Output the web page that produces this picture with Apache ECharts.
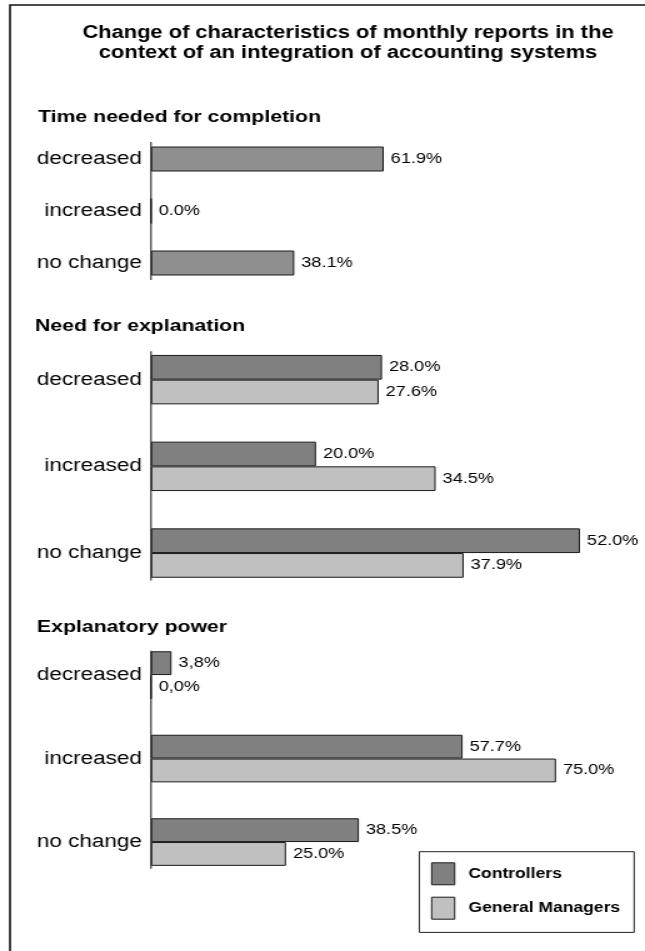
<!DOCTYPE html>
<html>
<head>
<meta charset="utf-8">
<title>Monthly reports and integration of accounting systems</title>
<script src="https://cdn.jsdelivr.net/npm/echarts@6/dist/echarts.min.js"></script>
<style>
  html, body { margin: 0; padding: 0; background: #fff; overflow: hidden; }
  /* the chart is laid out on a narrower canvas and widened, giving the wide lettering of the printed figure */
  #chart { width: 516px; height: 951px; transform: scaleX(1.25); transform-origin: 0 0; }
</style>
</head>
<body>
<div id="chart"></div>
<script>
// ---- data (percent of respondents) ----
const categories = ['decreased', 'increased', 'no change'];

const timeAll = [61.9, 0.0, 38.1];

const explanationControllers = [28.0, 20.0, 52.0];
const explanationManagers = [27.6, 34.5, 37.9];

const powerControllers = [3.8, 57.7, 38.5];
const powerManagers = [0.0, 75.0, 25.0];
// the printed labels of the first row of this block use a decimal comma
const powerDecimalMark = [',', '.', '.'];

const seriesNames = ['Controllers', 'General Managers'];

// ---- layout, in page pixels ----
const SX = 1.25;               // horizontal widening of the canvas
const FONT = '"Liberation Sans", Arial, Helvetica, sans-serif';
const AXIS_X = 151;            // position of the category axis
const TEXT = '#000';
const COLORS = { single: '#8f8f8f', controllers: '#808080', managers: '#c0c0c0' };

// each block has its own value scale: axisMax percent spans axisMax * pxPerPct pixels
const panels = [
  { title: 'Time needed for completion', titleX: 38, titleY: 117,
    top: 133, band: 52, pxPerPct: 3.76, axisMax: 100, inset: [9, 9], barWidth: 25 },
  { title: 'Need for explanation', titleX: 35, titleY: 326,
    top: 336.3, band: 86.7, pxPerPct: 8.25, axisMax: 55, inset: [15, 16], barWidth: 24.7 },
  { title: 'Explanatory power', titleX: 37, titleY: 627,
    top: 633.3, band: 83.5, pxPerPct: 5.40, axisMax: 80, inset: [17.5, 15], barWidth: 23.8 }
];

const fmt = p => p.value.toFixed(1) + '%';
const fmtPower = p => p.value.toFixed(1).replace('.', powerDecimalMark[p.dataIndex]) + '%';

function barLabel(formatter) {
  return {
    show: true, position: 'right', distance: 5.6, formatter: formatter,
    fontFamily: FONT, fontSize: 14.5, color: TEXT
  };
}
function barStyle(color) {
  return { color: color, borderColor: '#1a1a1a', borderWidth: 1 };
}

const grids = [], xAxes = [], yAxes = [], graphics = [];

panels.forEach((p, i) => {
  grids.push({
    left: AXIS_X / SX, top: p.top,
    width: p.axisMax * p.pxPerPct / SX, height: 3 * p.band,
    containLabel: false
  });
  xAxes.push({ type: 'value', gridIndex: i, min: 0, max: p.axisMax, show: false });
  yAxes.push({
    type: 'category', gridIndex: i, data: categories, inverse: true,
    axisLine: { show: false }, axisTick: { show: false }, splitLine: { show: false },
    axisLabel: { margin: 7.2, fontFamily: FONT, fontSize: 18, color: TEXT }
  });
  // section heading
  graphics.push({
    type: 'text', x: p.titleX / SX, y: p.titleY, silent: true,
    style: { text: p.title, fontFamily: FONT, fontWeight: 'bold', fontSize: 17,
             fill: TEXT, textAlign: 'left', textVerticalAlign: 'middle' }
  });
  // category axis line, a little shorter than the band area
  graphics.push({
    type: 'line', silent: true,
    shape: { x1: AXIS_X / SX, y1: p.top + p.inset[0],
             x2: AXIS_X / SX, y2: p.top + 3 * p.band - p.inset[1] },
    style: { stroke: '#333', lineWidth: 1.2 }
  });
});

// main heading
graphics.push({
  type: 'text', x: 348 / SX, y: 23.5, silent: true,
  style: {
    text: 'Change of characteristics of monthly reports in the\ncontext of an integration of accounting systems',
    fontFamily: FONT, fontWeight: 'bold', fontSize: 17.5, lineHeight: 19.5,
    fill: TEXT, textAlign: 'center', textVerticalAlign: 'top'
  }
});
// outer frame
graphics.push({
  type: 'rect', silent: true, z: 100,
  shape: { x: 10 / SX, y: 5, width: 700, height: 1100 },
  style: { fill: 'none', stroke: '#111', lineWidth: 1.6 }
});

const series = [
  { name: 'All respondents', type: 'bar', xAxisIndex: 0, yAxisIndex: 0,
    data: timeAll, barWidth: panels[0].barWidth, clip: false,
    itemStyle: barStyle(COLORS.single), label: barLabel(fmt) },

  { name: seriesNames[0], type: 'bar', xAxisIndex: 1, yAxisIndex: 1,
    data: explanationControllers, barWidth: panels[1].barWidth, barGap: '0%', clip: false,
    itemStyle: barStyle(COLORS.controllers), label: barLabel(fmt) },
  { name: seriesNames[1], type: 'bar', xAxisIndex: 1, yAxisIndex: 1,
    data: explanationManagers, barWidth: panels[1].barWidth, barGap: '0%', clip: false,
    itemStyle: barStyle(COLORS.managers), label: barLabel(fmt) },

  { name: seriesNames[0], type: 'bar', xAxisIndex: 2, yAxisIndex: 2,
    data: powerControllers, barWidth: panels[2].barWidth, barGap: '0%', clip: false,
    itemStyle: barStyle(COLORS.controllers), label: barLabel(fmtPower) },
  { name: seriesNames[1], type: 'bar', xAxisIndex: 2, yAxisIndex: 2,
    data: powerManagers, barWidth: panels[2].barWidth, barGap: '0%', clip: false,
    itemStyle: barStyle(COLORS.managers), label: barLabel(fmtPower) }
];

const chart = echarts.init(document.getElementById('chart'), null, { renderer: 'canvas' });
chart.setOption({
  backgroundColor: '#fff',
  animation: false,
  grid: grids,
  xAxis: xAxes,
  yAxis: yAxes,
  legend: {
    data: seriesNames, orient: 'vertical', selectedMode: false,
    left: 419.3 / SX, top: 851.7,
    itemWidth: 23 / SX, itemHeight: 22, itemGap: 11.4,
    padding: [10.6, 11.2, 12.7, 9.4],
    borderColor: '#222', borderWidth: 1, backgroundColor: '#fff',
    icon: 'rect',
    itemStyle: { borderColor: '#1a1a1a', borderWidth: 1 },
    textStyle: { fontFamily: FONT, fontWeight: 'bold', fontSize: 14, color: TEXT,
                 padding: [0, 0, 0, 6] }
  },
  graphic: graphics,
  series: series
});
</script>
</body>
</html>
